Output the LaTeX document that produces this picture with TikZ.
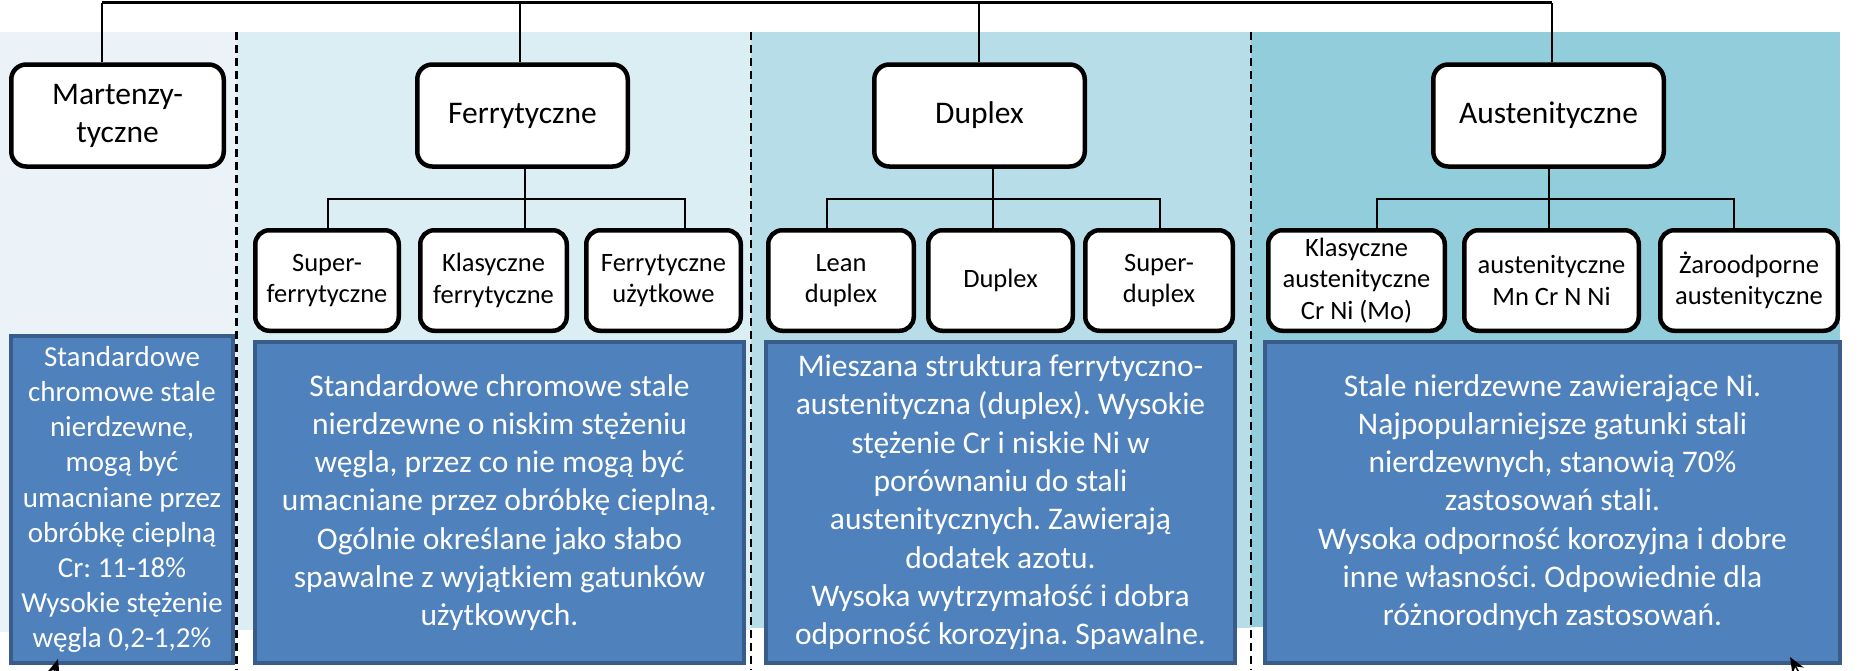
\documentclass[tikz,border=0pt]{standalone}
\usepackage{fontspec}
\setmainfont{Carlito}
\usetikzlibrary{arrows.meta}
\definecolor{pone}{RGB}{235,243,249}
\definecolor{ptwo}{RGB}{218,238,243}
\definecolor{pthree}{RGB}{183,222,232}
\definecolor{pfour}{RGB}{146,205,220}
\definecolor{descblue}{RGB}{79,129,189}
\definecolor{descedge}{RGB}{56,93,138}
\tikzset{
 mainbox/.style={draw=black, fill=white, line width=4.5pt, rounded corners=15pt, align=center, inner sep=0pt, font=\fontsize{31.5}{38}\selectfont, minimum height=102pt},
 subbox/.style={draw=black, fill=white, line width=4.5pt, rounded corners=14pt, align=center, inner sep=0pt, font=\fontsize{26.5}{31.5}\selectfont, minimum height=100.5pt},
 descbox/.style={draw=descedge, fill=descblue, line width=4pt, text=white, align=center, inner sep=0pt, font=\fontsize{31.5}{38.3}\selectfont},
 link/.style={draw=black, line width=2.5pt},
 divider/.style={draw=black, line width=2.5pt, dash pattern=on 8pt off 5pt},
 cursor/.style={-{Stealth[length=16pt,width=13pt]}, line width=1.5pt},
}
\begin{document}
\frenchspacing
\begin{tikzpicture}[x=1pt,y=-1pt]
\useasboundingbox (0,0) rectangle (1865,670);
% background panels
\fill[pone] (0,32) rectangle (237,632);
\fill[ptwo] (237,32) rectangle (751,630);
\fill[pthree] (751,32) rectangle (1251,628);
\fill[pfour] (1251,32) rectangle (1840,627);
% dividers
\coordinate (dv1t) at (236.5,32); \coordinate (dv1b) at (236.5,670);
\coordinate (dv2t) at (751,32); \coordinate (dv2b) at (751,670);
\coordinate (dv3t) at (1251,32); \coordinate (dv3b) at (1251,670);
\draw[divider] (dv1t) -- (dv1b);
\draw[divider] (dv2t) -- (dv2b);
\draw[divider] (dv3t) -- (dv3b);
% level 1
\node[mainbox, minimum width=212.5pt] (mart) at (117.5,115.5) {Martenzy-\\tyczne};
\node[mainbox, minimum width=210.5pt] (ferr) at (522.5,115.5) {Ferrytyczne};
\node[mainbox, minimum width=210.5pt] (dupl) at (979.5,115.5) {Duplex};
\node[mainbox, minimum width=230.5pt] (aust) at (1548.5,115.5) {Austenityczne};
% level 2
\node[subbox, minimum width=143.5pt] (sf) at (327,280.5) {Super-\\ferrytyczne};
\node[subbox, minimum width=146.5pt] (kf) at (493.5,280.5) {Klasyczne\\ferrytyczne};
\node[subbox, minimum width=154.5pt] (fu) at (663.5,280.5) {Ferrytyczne\\użytkowe};
\node[subbox, minimum width=145.5pt] (ld) at (841,280.5) {Lean\\duplex};
\node[subbox, minimum width=144.5pt] (dc) at (1000.5,280.5) {Duplex};
\node[subbox, minimum width=147.5pt] (sd) at (1159,280.5) {Super-\\duplex};
\node[subbox, minimum width=176.5pt] (ka) at (1356.5,280.5) {Klasyczne\\austenityczne\\Cr Ni (Mo)};
\node[subbox, minimum width=174.5pt] (am) at (1551.5,280.5) {austenityczne\\Mn Cr N Ni};
\node[subbox, minimum width=177.5pt] (za) at (1749,280.5) {Żaroodporne\\austenityczne};
% descriptions
\node[descbox, minimum width=222pt, minimum height=327pt, font=\fontsize{29}{35.2}\selectfont] (dm) at (122,499.5)
 {Standardowe\\chromowe stale\\nierdzewne,\\mogą być\\umacniane przez\\obróbkę cieplną\\Cr: 11-18\%\\Wysokie stężenie\\węgla 0,2-1,2\%};
\node[descbox, minimum width=489pt, minimum height=321pt] (df) at (499.5,502.5)
 {Standardowe chromowe stale\\nierdzewne o niskim stężeniu\\węgla, przez co nie mogą być\\umacniane przez obróbkę cieplną.\\Ogólnie określane jako słabo\\spawalne z wyjątkiem gatunków\\użytkowych.};
\node[descbox, minimum width=469pt, minimum height=321pt] (dd) at (1000.5,502.5)
 {Mieszana struktura ferrytyczno-\\austenityczna (duplex). Wysokie\\stężenie Cr i niskie Ni w\\porównaniu do stali\\austenitycznych. Zawierają\\dodatek azotu.\\Wysoka wytrzymałość i dobra\\odporność korozyjna. Spawalne.};
\node[descbox, minimum width=575pt, minimum height=321pt] (da) at (1552.5,502.5)
 {Stale nierdzewne zawierające Ni.\\Najpopularniejsze gatunki stali\\nierdzewnych, stanowią 70\%\\zastosowań stali.\\Wysoka odporność korozyjna i dobre\\inne własności. Odpowiednie dla\\różnorodnych zastosowań.};
% top bus
\coordinate (bm) at (102,2.5);
\coordinate (bf) at (520,2.5);
\coordinate (bd) at (979,2.5);
\coordinate (ba) at (1552,2.5);
\draw[link] (bm) -- (ba);
\draw[link] (bm) -- (bm |- mart.north);
\draw[link] (bf) -- (bf |- ferr.north);
\draw[link] (bd) -- (bd |- dupl.north);
\draw[link] (ba) -- (ba |- aust.north);
% ferrytyczne children
\coordinate (hfL) at (328,199); \coordinate (hfC) at (525,199); \coordinate (hfR) at (685,199);
\draw[link] (hfC |- ferr.south) -- (hfC |- kf.north);
\draw[link] (hfL |- sf.north) -- (hfL) -- (hfR) -- (hfR |- fu.north);
% duplex children
\coordinate (hdL) at (827,199); \coordinate (hdC) at (993,199); \coordinate (hdR) at (1160,199);
\draw[link] (hdC |- dupl.south) -- (hdC |- dc.north);
\draw[link] (hdL |- ld.north) -- (hdL) -- (hdR) -- (hdR |- sd.north);
% austenityczne children
\coordinate (haL) at (1377,199); \coordinate (haC) at (1549,199); \coordinate (haR) at (1734,199);
\draw[link] (haC |- aust.south) -- (haC |- am.north);
\draw[link] (haL |- ka.north) -- (haL) -- (haR) -- (haR |- za.north);
% cut-off arrow tips at the bottom edge
\coordinate (clS) at (44,705); \coordinate (clE) at (58,659);
\coordinate (crS) at (1818,705); \coordinate (crE) at (1790,657);
\draw[cursor] (clS) -- (clE);
\draw[cursor] (crS) -- (crE);
\end{tikzpicture}
\end{document}
